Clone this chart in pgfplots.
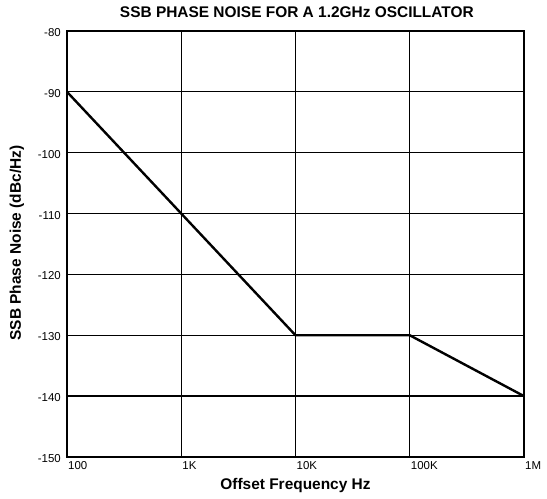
\documentclass[border=0pt]{standalone}
\usepackage{fontspec}
\setmainfont{Liberation Sans}
\setsansfont{Liberation Sans}
\usepackage{pgfplots}
\pgfplotsset{compat=1.18}
\begin{document}
\begin{tikzpicture}
\begin{axis}[
  scale only axis,
  width=457bp, height=426bp,
  xmode=log,
  xmin=100, xmax=1000000,
  ymin=-150, ymax=-80,
  xtick={100,1000,10000,100000,1000000},
  xticklabels={100,1K,10K,100K,1M},
  ytick={-150,-140,-130,-120,-110,-100,-90,-80},
  minor xtick={},
  major tick length=0pt,
  minor tick length=0pt,
  subtickwidth=0pt,
  grid=major,
  major grid style={black, line width=1.3bp},
  axis line style={black, line width=1.6bp},
  /pgf/number format/assume math mode=true,
  xticklabel style={anchor=north west, inner sep=0bp, xshift=1bp, yshift=-4bp, font=\fontsize{11.5}{12}\selectfont},
  yticklabel style={anchor=east, inner sep=0bp, xshift=-6bp, yshift=-1.5bp, font=\fontsize{11.5}{12}\selectfont},
]
\addplot[black, line width=2.4bp, mark=none] coordinates {
  (100,-90) (1000,-110) (10000,-130) (100000,-130) (1000000,-140)
};
\coordinate (sw) at (rel axis cs:0,0);
\coordinate (ne) at (rel axis cs:1,1);
\coordinate (tt) at (rel axis cs:0.503,1);
\coordinate (bb) at (rel axis cs:0.5,0);
\coordinate (ll) at (rel axis cs:0,0.5);
\end{axis}
\node[font=\fontsize{15.5}{17}\selectfont\bfseries, anchor=center] at ([yshift=19bp]tt) {SSB PHASE NOISE FOR A 1.2GHz OSCILLATOR};
\node[font=\fontsize{15.5}{17}\selectfont\bfseries, anchor=center] at ([yshift=-29bp]bb) {Offset Frequency Hz};
\node[font=\fontsize{15.5}{17}\selectfont\bfseries, anchor=center, rotate=90] at ([xshift=-50bp,yshift=1bp]ll) {SSB Phase Noise (dBc/Hz)};
\pgfresetboundingbox
\useasboundingbox ([shift={(-67bp,-42bp)}]sw) rectangle ([shift={(23bp,31bp)}]ne);
\end{tikzpicture}
\end{document}
